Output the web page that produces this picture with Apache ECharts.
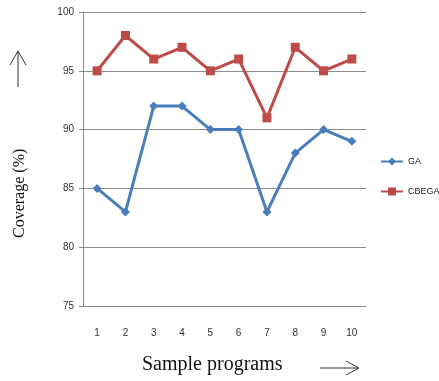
<!DOCTYPE html>
<html><head><meta charset="utf-8">
<script src="https://cdn.jsdelivr.net/npm/echarts@6/dist/echarts.min.js"></script>
<style>html,body{margin:0;padding:0;background:#fff}#c{width:439px;height:381px}</style>
</head><body><div id="c"></div>
<script>
const categories = ['1','2','3','4','5','6','7','8','9','10'];
const gaValues = [85, 83, 92, 92, 90, 90, 83, 88, 90, 89];
const cbegaValues = [95, 98, 96, 97, 95, 96, 91, 97, 95, 96];
const yTicks = {min: 75, max: 100, interval: 5};

const chart = echarts.init(document.getElementById('c'));
const gray = '#8c8c8c';
chart.setOption({
  animation: false,
  grid: {left: 83, right: 73, top: 12, bottom: 75},
  legend: {
    orient: 'vertical', left: 380, top: 157, itemGap: 21, padding: 0,
    itemWidth: 22, itemHeight: 10,
    textStyle: {fontFamily: 'Liberation Sans', fontSize: 9, color: '#222'},
    data: ['GA', 'CBEGA']
  },
  xAxis: {
    type: 'category', data: categories, boundaryGap: true,
    axisLine: {lineStyle: {color: gray}},
    axisTick: {show: false},
    axisLabel: {margin: 22, fontFamily: 'Liberation Sans', fontSize: 10, color: '#333'}
  },
  yAxis: {
    type: 'value', min: yTicks.min, max: yTicks.max, interval: yTicks.interval,
    axisLine: {show: true, lineStyle: {color: gray}},
    axisTick: {show: true, inside: false, length: 4, lineStyle: {color: gray}},
    splitLine: {lineStyle: {color: gray}},
    axisLabel: {margin: 9, fontFamily: 'Liberation Sans', fontSize: 10, color: '#333'}
  },
  graphic: [
    {type: 'text', x: 12, y: 238, rotation: Math.PI / 2,
     style: {text: 'Coverage (%)', font: '16px "Liberation Serif"', fill: '#111'}},
    {type: 'text', x: 142, y: 355,
     style: {text: 'Sample programs', font: '20px "Liberation Serif"', fill: '#111'}},
    {type: 'line', shape: {x1: 18, y1: 87, x2: 18, y2: 51}, style: {stroke: '#333', lineWidth: 1}},
    {type: 'polyline', shape: {points: [[10, 65], [18, 51], [26, 65]]}, style: {stroke: '#333', fill: null, lineWidth: 1}},
    {type: 'line', shape: {x1: 320, y1: 368, x2: 359, y2: 368}, style: {stroke: '#333', lineWidth: 1}},
    {type: 'polyline', shape: {points: [[346, 361], [359, 368], [346, 375]]}, style: {stroke: '#333', fill: null, lineWidth: 1}}
  ],
  series: [
    {name: 'GA', type: 'line', data: gaValues, symbol: 'diamond', symbolSize: 9,
     lineStyle: {color: '#4a7ebb', width: 3}, itemStyle: {color: '#4a7ebb'}},
    {name: 'CBEGA', type: 'line', data: cbegaValues, symbol: 'rect', symbolSize: 9,
     lineStyle: {color: '#be4b48', width: 3}, itemStyle: {color: '#be4b48'}}
  ]
});
</script></body></html>
